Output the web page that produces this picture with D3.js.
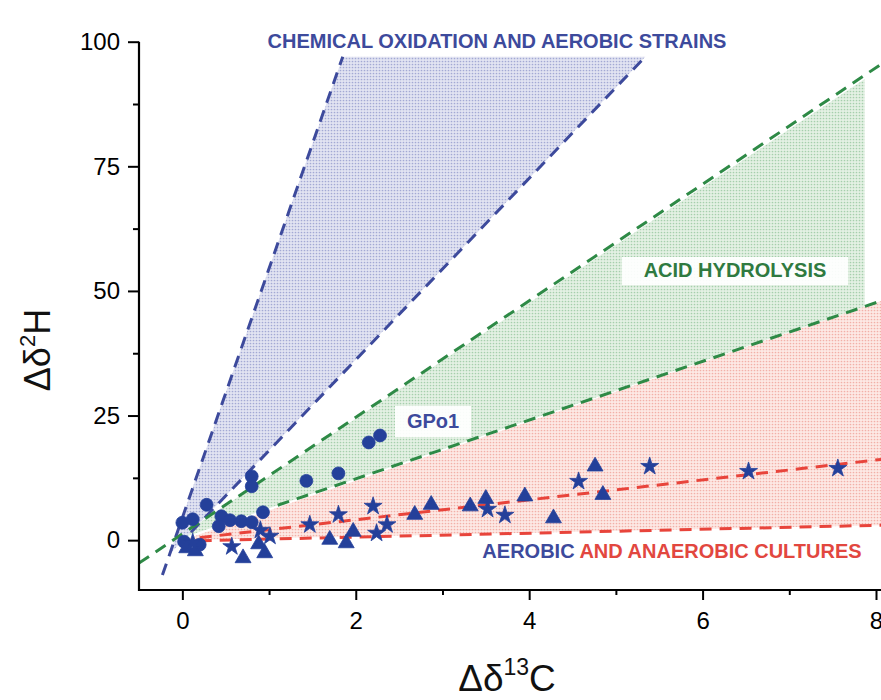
<!DOCTYPE html>
<html>
<head>
<meta charset="utf-8">
<script src="https://d3js.org/d3.v7.min.js"></script>
<style>
  body { margin: 0; background: #fff; }
  svg { display: block; font-family: "Liberation Sans", Arial, sans-serif; }
</style>
</head>
<body>
<div id="chart"></div>
<script>
// Tick values
const xTicks = [0, 2, 4, 6, 8];
const xMinorTicks = [1, 3, 5, 7];
const yTicks = [0, 25, 50, 75, 100];
const yMinorTicks = [12.5, 37.5, 62.5, 87.5];

// Measured points (Δδ13C, Δδ2H)
const circles = [
    [0.0, 3.5], [0.12, 4.2], [0.02, -0.3], [0.2, -0.9], [0.28, 7.1],
    [0.45, 4.8], [0.42, 2.8], [0.55, 4.0], [0.68, 3.8], [0.8, 3.6],
    [0.93, 5.6], [0.8, 12.8], [0.8, 10.8], [1.43, 11.9], [1.8, 13.4],
    [2.15, 19.6], [2.28, 21.0]
];
const triangles = [
    [0.05, -1.6], [0.15, -2.2], [0.7, -3.6], [0.95, -2.6], [0.88, -0.8],
    [1.7, 0.1], [1.89, -0.6], [1.97, 1.7], [2.68, 5.1], [2.87, 7.1],
    [3.32, 6.8], [3.5, 8.3], [3.95, 8.8], [4.28, 4.4], [4.76, 14.8], [4.85, 9.1]
];
const stars = [
    [0.12, -0.5], [0.57, -1.3], [0.9, 2.0], [1.01, 0.8], [1.47, 3.1],
    [1.8, 5.1], [2.2, 6.8], [2.24, 1.4], [2.36, 3.1], [3.52, 6.2],
    [3.72, 5.0], [4.57, 11.8], [5.39, 14.8], [6.53, 13.8], [7.56, 14.4]
];

// Trend lines (end points in data units)
const blueSteep = [[-0.23, -7], [1.85, 97]];
const blueShallow = [[0.1, 1.6], [5.34, 97]];
const greenUpper = [[-0.5, -4.6], [8.06, 95.5]];
const greenLower = [[1.1, 7.0], [8.06, 48.0]];
const redUpper = [[0.2, 0.5], [8.06, 16.2]];
const redLower = [[0.2, -0.1], [8.06, 3.0]];

// Shaded fields
const blueField = [[-0.15, -2.9], [1.85, 97], [5.34, 97]];
const greenField = [[-0.12, -0.2], [7.87, 92.5], [7.87, 46.9]];
const redField = [[0, 0], [8.06, 48.0], [8.06, 3.0]];

const styles = {
    marker: "#24409a",
    blue: "#3d4a9c",
    green: "#2e8a46",
    red: "#e8443b",
    greenText: "#2f7a40",
    redText: "#e2473f"
};

const width = 881, height = 700;
const svg = d3.select("#chart").append("svg")
    .attr("width", width)
    .attr("height", height);

const x = d3.scaleLinear().domain([-0.5, 8]).range([139, 876]);
const y = d3.scaleLinear().domain([-10, 100]).range([590, 41.7]);

// stipple patterns
const defs = svg.append("defs");
const makePattern = (id, base, dot) => {
    const p = defs.append("pattern")
        .attr("id", id)
        .attr("patternUnits", "userSpaceOnUse")
        .attr("width", 3).attr("height", 3);
    p.append("rect").attr("width", 3).attr("height", 3).attr("fill", base);
    p.append("circle").attr("cx", 1.5).attr("cy", 1.5).attr("r", 0.85).attr("fill", dot);
};
makePattern("pBlue", "#e2e4f2", "#a3a9d4");
makePattern("pGreen", "#e4f1e4", "#a6cfac");
makePattern("pRed", "#fde9e5", "#f2b0a8");

defs.append("clipPath").attr("id", "plotClip")
    .append("rect").attr("x", 139).attr("y", 0).attr("width", width - 139).attr("height", 590);

const plot = svg.append("g").attr("clip-path", "url(#plotClip)");
const line = d3.line().x(d => x(d[0])).y(d => y(d[1]));
const poly = d => line(d) + "Z";

plot.append("path").attr("d", poly(redField)).attr("fill", "url(#pRed)");
plot.append("path").attr("d", poly(greenField)).attr("fill", "url(#pGreen)");
plot.append("path").attr("d", poly(blueField)).attr("fill", "url(#pBlue)");

const dashed = (pts, color) => plot.append("path")
    .attr("d", line(pts))
    .attr("fill", "none")
    .attr("stroke", color)
    .attr("stroke-width", 3)
    .attr("stroke-dasharray", "12,8");

dashed(blueSteep, styles.blue);
dashed(blueShallow, styles.blue);
dashed(greenUpper, styles.green);
dashed(greenLower, styles.green);
dashed(redUpper, styles.red);
dashed(redLower, styles.red);

// label boxes
const label = (text, cx, baseline, color, box) => {
    if (box) {
        svg.append("rect")
            .attr("x", box[0]).attr("y", box[1])
            .attr("width", box[2]).attr("height", box[3])
            .attr("fill", "#fff").attr("opacity", 0.92);
    }
    return svg.append("text")
        .attr("x", cx).attr("y", baseline)
        .attr("text-anchor", "middle")
        .attr("font-size", 20)
        .attr("font-weight", "bold")
        .attr("fill", color)
        .text(text);
};

label("CHEMICAL OXIDATION AND AEROBIC STRAINS", 497, 48, styles.blue, [262, 24, 472, 32]);
label("ACID HYDROLYSIS", 735, 277, styles.greenText, [622, 257, 226, 28]);
label("GPo1", 433, 428, styles.blue, [395, 406, 76, 31]);

svg.append("rect").attr("x", 463).attr("y", 537).attr("width", 402).attr("height", 30)
    .attr("fill", "#fff").attr("opacity", 0.9);
const cult = svg.append("text")
    .attr("x", 672).attr("y", 558)
    .attr("text-anchor", "middle")
    .attr("font-size", 20)
    .attr("font-weight", "bold");
cult.append("tspan").attr("fill", styles.blue).text("AEROBIC ");
cult.append("tspan").attr("fill", styles.redText).text("AND ANAEROBIC CULTURES");

// markers
const drawSymbols = (data, type, size) => {
    plot.selectAll(null)
        .data(data)
        .enter().append("path")
        .attr("transform", d => `translate(${x(d[0])},${y(d[1])})`)
        .attr("d", d3.symbol().type(type).size(size))
        .attr("fill", styles.marker)
        .attr("stroke", styles.marker)
        .attr("stroke-width", 0.8);
};
drawSymbols(circles, d3.symbolCircle, 130);
drawSymbols(triangles, d3.symbolTriangle, 110);
drawSymbols(stars, d3.symbolStar, 100);

// axes
const xAxis = svg.append("g")
    .attr("transform", `translate(0,590)`)
    .call(d3.axisBottom(x).tickValues(xTicks).tickSize(10).tickPadding(12).tickSizeOuter(0))
    .style("font-size", "24px")
    .style("font-family", "'Liberation Sans', Arial, sans-serif");
xAxis.select(".domain").remove();
xAxis.selectAll(".tick line").attr("stroke-width", 2);
svg.append("g")
    .attr("transform", `translate(0,590)`)
    .call(d3.axisBottom(x).tickValues(xMinorTicks).tickSize(5).tickFormat(""))
    .call(g => g.select(".domain").remove())
    .selectAll(".tick line").attr("stroke-width", 2);

const yAxis = svg.append("g")
    .attr("transform", `translate(139,0)`)
    .call(d3.axisLeft(y).tickValues(yTicks).tickSize(11).tickPadding(8))
    .style("font-size", "24px")
    .style("font-family", "'Liberation Sans', Arial, sans-serif");
yAxis.select(".domain").remove();
yAxis.selectAll(".tick line").attr("stroke-width", 2);
svg.append("g")
    .attr("transform", `translate(139,0)`)
    .call(d3.axisLeft(y).tickValues(yMinorTicks).tickSize(6).tickFormat(""))
    .call(g => g.select(".domain").remove())
    .selectAll(".tick line").attr("stroke-width", 2);

svg.append("line")
    .attr("x1", 139).attr("x2", 139)
    .attr("y1", y(100)).attr("y2", 591)
    .attr("stroke", "#000").attr("stroke-width", 2.2);
svg.append("line")
    .attr("x1", 138).attr("x2", width)
    .attr("y1", 590).attr("y2", 590)
    .attr("stroke", "#000").attr("stroke-width", 2.2);

// axis titles
const yTitle = svg.append("text")
    .attr("transform", "translate(50,350) rotate(-90)")
    .attr("text-anchor", "middle")
    .attr("font-size", 36)
    .attr("fill", "#111");
yTitle.append("tspan").text("Δδ");
yTitle.append("tspan").attr("font-size", 22).attr("dy", -15).text("2");
yTitle.append("tspan").attr("dy", 15).text("H");

const xTitle = svg.append("text")
    .attr("x", 507).attr("y", 691)
    .attr("text-anchor", "middle")
    .attr("font-size", 37)
    .attr("fill", "#111");
xTitle.append("tspan").text("Δδ");
xTitle.append("tspan").attr("font-size", 23).attr("dy", -16).text("13");
xTitle.append("tspan").attr("dy", 16).text("C");
</script>
</body>
</html>
